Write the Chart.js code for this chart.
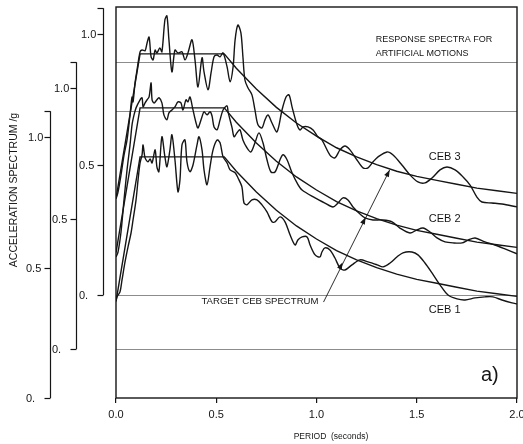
<!DOCTYPE html>
<html>
<head>
<meta charset="utf-8">
<title>Response spectra for artificial motions</title>
<script src="https://cdn.jsdelivr.net/npm/chart.js@4.4.1/dist/chart.umd.min.js"></script>
<style>
  html, body { margin: 0; padding: 0; background: #fff; }
  #wrap { width: 523px; height: 444px; }
</style>
</head>
<body>
<div id="wrap"><canvas id="spectraChart"></canvas></div>
<script>
// Period axis ticks (seconds) and the tick values shared by the three offset ordinates
const periodTicks = [0, 0.5, 1.0, 1.5, 2.0];
const accelTicks = [0, 0.5, 1.0];
const accelTickLabels = ['0.', '0.5', '1.0'];

// Target CEB spectrum (same shape drawn under each motion)
const targetPeriod = [0, 0.12, 0.54, 0.6, 0.7, 0.8, 0.9, 1.0, 1.1, 1.2, 1.3, 1.4, 1.5, 1.6, 1.7, 1.8, 1.9, 2.0];
const targetAccel  = [0.37, 0.925, 0.925, 0.87, 0.79, 0.72, 0.66, 0.61, 0.565, 0.53, 0.50, 0.475, 0.455, 0.44, 0.425, 0.41, 0.40, 0.39];

// CEB 3 artificial motion
const ceb3Period = [0.000, 0.010, 0.025, 0.040, 0.055, 0.070, 0.080, 0.085, 0.095, 0.105, 0.120, 0.130, 0.145, 0.155, 0.165,
  0.175, 0.185, 0.195, 0.204, 0.219, 0.229, 0.244, 0.254, 0.264, 0.279, 0.294, 0.309, 0.329, 0.344, 0.359, 0.379, 0.394,
  0.409, 0.429, 0.439, 0.459, 0.474, 0.489, 0.504, 0.519, 0.534, 0.554, 0.569, 0.584, 0.594, 0.608, 0.623, 0.633, 0.643,
  0.658, 0.678, 0.693, 0.708, 0.728, 0.743, 0.758, 0.778, 0.803, 0.828, 0.848, 0.863, 0.878, 0.903, 0.918, 0.933, 0.958,
  0.983, 1.007, 1.027, 1.067, 1.092, 1.117, 1.142, 1.167, 1.202, 1.232, 1.257, 1.282, 1.307, 1.352, 1.382, 1.426, 1.466,
  1.506, 1.541, 1.576, 1.616, 1.651, 1.691, 1.731, 1.766, 1.800, 1.825, 1.875, 1.925, 2.000];
const ceb3Accel = [0.369, 0.395, 0.461, 0.537, 0.595, 0.691, 0.760, 0.741, 0.814, 0.864, 0.933, 0.940, 0.937, 0.967, 0.990,
  0.914, 0.902, 0.940, 0.929, 0.948, 0.933, 1.056, 1.071, 0.979, 0.856, 0.940, 0.929, 0.933, 0.902, 0.929, 0.979, 0.902,
  0.798, 0.910, 0.856, 0.787, 0.852, 0.914, 0.921, 0.914, 0.929, 0.875, 0.818, 0.875, 0.979, 1.036, 1.006, 0.914, 0.825,
  0.795, 0.768, 0.710, 0.653, 0.641, 0.672, 0.691, 0.660, 0.626, 0.710, 0.760, 0.768, 0.722, 0.653, 0.633, 0.645, 0.645,
  0.633, 0.607, 0.595, 0.537, 0.526, 0.557, 0.572, 0.557, 0.518, 0.488, 0.488, 0.511, 0.530, 0.549, 0.537, 0.499, 0.461,
  0.434, 0.430, 0.449, 0.480, 0.491, 0.480, 0.453, 0.422, 0.376, 0.357, 0.353, 0.349, 0.338];

// CEB 2 artificial motion
const ceb2Period = [0.000, 0.010, 0.025, 0.040, 0.055, 0.070, 0.080, 0.090, 0.100, 0.120, 0.130, 0.135, 0.145, 0.155, 0.165,
  0.175, 0.180, 0.190, 0.204, 0.214, 0.229, 0.239, 0.254, 0.264, 0.279, 0.294, 0.309, 0.324, 0.334, 0.349, 0.359, 0.369,
  0.384, 0.399, 0.409, 0.429, 0.439, 0.454, 0.469, 0.479, 0.489, 0.504, 0.519, 0.534, 0.554, 0.559, 0.579, 0.589, 0.603,
  0.618, 0.633, 0.653, 0.673, 0.693, 0.713, 0.733, 0.753, 0.773, 0.793, 0.818, 0.833, 0.853, 0.878, 0.903, 0.928, 0.993,
  1.042, 1.082, 1.107, 1.132, 1.157, 1.182, 1.217, 1.242, 1.282, 1.327, 1.377, 1.416, 1.466, 1.501, 1.531, 1.566, 1.601,
  1.641, 1.681, 1.726, 1.756, 1.791, 1.840, 1.890, 1.940, 2.000];
const ceb2Accel = [0.353, 0.372, 0.449, 0.572, 0.687, 0.783, 0.860, 0.898, 0.925, 0.956, 0.964, 0.929, 0.944, 0.956, 0.967,
  1.021, 0.956, 0.944, 0.956, 0.964, 0.944, 0.898, 0.879, 0.906, 0.917, 0.929, 0.948, 0.944, 0.917, 0.956, 0.948, 0.967,
  0.917, 0.868, 0.848, 0.891, 0.910, 0.898, 0.910, 0.894, 0.852, 0.841, 0.879, 0.917, 0.933, 0.910, 0.848, 0.814, 0.829,
  0.841, 0.802, 0.772, 0.756, 0.791, 0.829, 0.791, 0.726, 0.679, 0.679, 0.726, 0.745, 0.726, 0.676, 0.637, 0.610, 0.580,
  0.560, 0.545, 0.560, 0.580, 0.572, 0.545, 0.518, 0.503, 0.495, 0.495, 0.488, 0.464, 0.445, 0.457, 0.464, 0.449, 0.426,
  0.411, 0.407, 0.407, 0.418, 0.426, 0.411, 0.399, 0.384, 0.365];

// CEB 1 artificial motion
const ceb1Period = [0.000, 0.005, 0.020, 0.030, 0.045, 0.060, 0.075, 0.085, 0.100, 0.110, 0.120, 0.130, 0.135, 0.145, 0.160,
  0.170, 0.180, 0.195, 0.204, 0.214, 0.229, 0.244, 0.254, 0.269, 0.279, 0.294, 0.309, 0.319, 0.329, 0.344, 0.354, 0.369,
  0.384, 0.404, 0.414, 0.429, 0.439, 0.454, 0.469, 0.484, 0.504, 0.519, 0.534, 0.554, 0.569, 0.594, 0.608, 0.628, 0.638,
  0.653, 0.678, 0.703, 0.728, 0.753, 0.778, 0.793, 0.818, 0.843, 0.868, 0.893, 0.908, 0.928, 0.953, 0.968, 0.993, 1.017,
  1.027, 1.042, 1.067, 1.092, 1.117, 1.142, 1.177, 1.217, 1.257, 1.302, 1.332, 1.367, 1.401, 1.431, 1.476, 1.506, 1.541,
  1.576, 1.616, 1.656, 1.701, 1.741, 1.791, 1.840, 1.880, 1.925, 1.975, 2.000];
const ceb1Accel = [0.372, 0.388, 0.407, 0.453, 0.522, 0.580, 0.633, 0.683, 0.760, 0.837, 0.902, 0.933, 0.971, 0.921, 0.906,
  0.917, 0.902, 0.952, 0.887, 0.868, 1.002, 0.925, 0.887, 0.952, 1.010, 0.914, 0.791, 0.837, 0.971, 0.990, 0.906, 0.868,
  0.894, 0.971, 1.002, 0.952, 0.875, 0.818, 0.887, 0.952, 0.990, 0.979, 0.925, 0.902, 0.875, 0.864, 0.845, 0.810, 0.749,
  0.741, 0.760, 0.760, 0.741, 0.714, 0.676, 0.676, 0.695, 0.676, 0.626, 0.587, 0.607, 0.618, 0.618, 0.587, 0.549, 0.541,
  0.560, 0.576, 0.568, 0.537, 0.499, 0.491, 0.511, 0.530, 0.522, 0.511, 0.503, 0.518, 0.541, 0.557, 0.560, 0.549, 0.518,
  0.480, 0.434, 0.395, 0.380, 0.376, 0.384, 0.388, 0.388, 0.376, 0.365, 0.361];

const ink = '#151515';
const gridInk = '#8c8c8c';
const fontFamily = "'Liberation Sans', Arial, Helvetica, sans-serif";

// Each curve has its own ordinate; the scales are shifted so the curves stack
const axisShift = { y1: 0, y2: 0.188, y3: 0.395 };
const axisSpan = 1.5;
const spineTop = 1.1;
const spineX = { y1: 50, y2: 76, y3: 103 };

function points(xs, ys) {
  return xs.map((x, i) => ({ x: x, y: ys[i] }));
}

function curve(label, xs, ys, axis, tension) {
  return {
    label: label,
    data: points(xs, ys),
    yAxisID: axis,
    borderColor: ink,
    borderWidth: 1.4,
    pointRadius: 0,
    tension: tension,
    fill: false
  };
}

function offsetAxis(id) {
  return {
    type: 'linear',
    display: false,
    min: -axisShift[id],
    max: axisSpan - axisShift[id]
  };
}

function arrowHead(ctx, x, y, ux, uy) {
  const len = 7, half = 2.6;
  ctx.beginPath();
  ctx.moveTo(x, y);
  ctx.lineTo(x - ux * len - uy * half, y - uy * len + ux * half);
  ctx.lineTo(x - ux * len + uy * half, y - uy * len - ux * half);
  ctx.closePath();
  ctx.fill();
}

const decorations = {
  id: 'decorations',
  beforeDatasetsDraw(chart) {
    const { ctx, chartArea: a, scales } = chart;
    ctx.save();
    ctx.strokeStyle = gridInk;
    ctx.lineWidth = 1;
    [['y2', spineTop], ['y1', spineTop], ['y3', 0], ['y2', 0]].forEach(([id, v]) => {
      const y = Math.round(scales[id].getPixelForValue(v)) + 0.5;
      ctx.beginPath();
      ctx.moveTo(a.left, y);
      ctx.lineTo(a.right, y);
      ctx.stroke();
    });
    ctx.restore();
  },
  afterDatasetsDraw(chart) {
    const { ctx, chartArea: a, scales } = chart;
    const xs = scales.x;
    ctx.save();

    // plot frame
    ctx.strokeStyle = ink;
    ctx.lineWidth = 1.4;
    ctx.strokeRect(a.left, a.top, a.right - a.left, a.bottom - a.top);

    // the three offset ordinate spines
    ctx.fillStyle = ink;
    ctx.font = '11px ' + fontFamily;
    ctx.textBaseline = 'middle';
    ctx.textAlign = 'left';
    ['y1', 'y2', 'y3'].forEach(id => {
      const s = scales[id];
      const sx = spineX[id] + 0.5;
      ctx.lineWidth = 1.2;
      ctx.beginPath();
      ctx.moveTo(sx, s.getPixelForValue(0));
      ctx.lineTo(sx, s.getPixelForValue(spineTop));
      ctx.stroke();
      accelTicks.concat([spineTop]).forEach(v => {
        const ty = Math.round(s.getPixelForValue(v)) + 0.5;
        ctx.beginPath();
        ctx.moveTo(sx - 6, ty);
        ctx.lineTo(sx, ty);
        ctx.stroke();
      });
      accelTicks.forEach((v, i) => {
        const indent = v === 1.0 ? 2 : 0;
        ctx.fillText(accelTickLabels[i], spineX[id] - 24 + indent, s.getPixelForValue(v) + 1);
      });
    });

    // ordinate title
    ctx.save();
    ctx.translate(14, 190);
    ctx.rotate(-Math.PI / 2);
    ctx.textAlign = 'center';
    ctx.font = '10.5px ' + fontFamily;
    ctx.fillText('ACCELERATION SPECTRUM /g', 0, 0);
    ctx.restore();

    // abscissa title
    ctx.textAlign = 'center';
    ctx.font = '8.5px ' + fontFamily;
    ctx.fillText('PERIOD  (seconds)', 331, 437);

    // notes inside the plot
    ctx.textAlign = 'left';
    ctx.font = '9px ' + fontFamily;
    ctx.fillText('RESPONSE SPECTRA FOR', xs.getPixelForValue(1.295), 40);
    ctx.fillText('ARTIFICIAL MOTIONS', xs.getPixelForValue(1.295), 54);
    ctx.font = '11px ' + fontFamily;
    ctx.fillText('CEB 3', xs.getPixelForValue(1.56), scales.y3.getPixelForValue(0.528));
    ctx.fillText('CEB 2', xs.getPixelForValue(1.56), scales.y2.getPixelForValue(0.50));
    ctx.fillText('CEB 1', xs.getPixelForValue(1.56), scales.y1.getPixelForValue(0.337));
    ctx.textAlign = 'right';
    ctx.font = '9.6px ' + fontFamily;
    ctx.fillText('TARGET CEB SPECTRUM', xs.getPixelForValue(1.01), scales.y1.getPixelForValue(0.37));
    ctx.textAlign = 'left';
    ctx.font = '20px ' + fontFamily;
    ctx.fillText('a)', xs.getPixelForValue(1.82), scales.y1.getPixelForValue(0.087));

    // arrow from the label to the target curve of each motion
    const start = { x: xs.getPixelForValue(1.035), y: scales.y1.getPixelForValue(0.368) };
    const heads = [
      { x: xs.getPixelForValue(1.13), y: scales.y1.getPixelForValue(0.52) },
      { x: xs.getPixelForValue(1.245), y: scales.y2.getPixelForValue(0.505) },
      { x: xs.getPixelForValue(1.365), y: scales.y3.getPixelForValue(0.48) }
    ];
    const end = heads[heads.length - 1];
    const dx = end.x - start.x, dy = end.y - start.y;
    const d = Math.hypot(dx, dy);
    ctx.lineWidth = 0.9;
    ctx.beginPath();
    ctx.moveTo(start.x, start.y);
    ctx.lineTo(end.x, end.y);
    ctx.stroke();
    heads.forEach(h => arrowHead(ctx, h.x, h.y, dx / d, dy / d));

    ctx.restore();
  }
};

new Chart(document.getElementById('spectraChart'), {
  type: 'line',
  data: {
    datasets: [
      curve('CEB 3', ceb3Period, ceb3Accel, 'y3', 0.3),
      curve('CEB 2', ceb2Period, ceb2Accel, 'y2', 0.3),
      curve('CEB 1', ceb1Period, ceb1Accel, 'y1', 0.3),
      curve('Target CEB 3', targetPeriod, targetAccel, 'y3', 0),
      curve('Target CEB 2', targetPeriod, targetAccel, 'y2', 0),
      curve('Target CEB 1', targetPeriod, targetAccel, 'y1', 0)
    ]
  },
  options: {
    responsive: true,
    maintainAspectRatio: false,
    animation: false,
    events: [],
    layout: { padding: { left: 116, right: 6, top: 7, bottom: 0 } },
    plugins: {
      legend: { display: false },
      tooltip: { enabled: false }
    },
    scales: {
      x: {
        type: 'linear',
        min: 0,
        max: 2,
        afterBuildTicks: scale => { scale.ticks = periodTicks.map(v => ({ value: v })); },
        afterFit: scale => {
          scale.height = 46;
          // let the last label run into the margin, as in the original figure
          scale.paddingLeft = 0;
          scale.paddingRight = 0;
        },
        border: { display: false },
        grid: { drawOnChartArea: false, drawTicks: true, tickLength: 5, color: ink, lineWidth: 1.2 },
        ticks: {
          color: ink,
          padding: 5,
          maxRotation: 0,
          autoSkip: false,
          font: { family: fontFamily, size: 11 },
          callback: v => v.toFixed(1)
        }
      },
      y1: offsetAxis('y1'),
      y2: offsetAxis('y2'),
      y3: offsetAxis('y3')
    }
  },
  plugins: [decorations]
});
</script>
</body>
</html>
